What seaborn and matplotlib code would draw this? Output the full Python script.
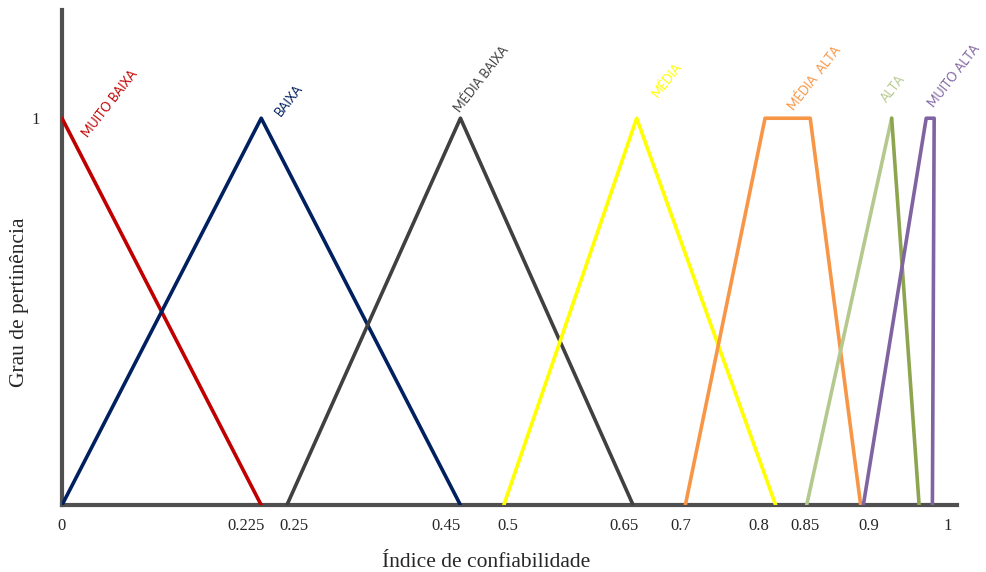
import matplotlib
matplotlib.use("Agg")
import matplotlib.pyplot as plt
import seaborn as sns
import pandas as pd

# membership functions (x = índice, y = grau)
mb_x = [0.0, 0.225]
mb_y = [1, 0]
b_x = [0.0, 0.225, 0.45]
b_y = [0, 1, 0]
mbx_x = [0.254, 0.45, 0.645]
mbx_y = [0, 1, 0]
m_x = [0.499, 0.649, 0.806]
m_y = [0, 1, 0]
ma_x = [0.704, 0.794, 0.845, 0.902]
ma_y = [0, 1, 1, 0]
a_x = [0.841, 0.937, 0.968]
a_y = [0, 1, 0]
mta_x = [0.905, 0.976, 0.985, 0.983]
mta_y = [0, 1, 1, 0]

names = ["MUITO BAIXA", "BAIXA", "MÉDIA BAIXA", "MÉDIA", "MÉDIA  ALTA", "ALTA", "MUITO ALTA"]
colors = ["#c00000", "#002060", "#404040", "#ffff00", "#f79646", "#b5c98e", "#8064a2"]
alta_fall_color = "#8ea54f"

# label anchors (lower-left of rotated text)
lab_x = [0.031, 0.249, 0.451, 0.675, 0.829, 0.933, 0.987]
lab_y = [0.945, 1.0, 1.01, 1.05, 1.015, 1.035, 1.022]

tick_pos = [0.0, 0.208, 0.262, 0.434, 0.504, 0.635, 0.699, 0.787, 0.839, 0.911, 1.0]
tick_labels = ["0", "0.225", "0.25", "0.45", "0.5", "0.65", "0.7", "0.8", "0.85", "0.9", "1"]

sns.set_style("white")
plt.rcParams['font.family'] = ['Liberation Serif', 'DejaVu Serif']

fig = plt.figure(figsize=(9.87, 5.72), dpi=100)
ax = fig.add_axes([0.0628, 0.117, 0.907, 0.865])

series = [(mb_x, mb_y), (b_x, b_y), (mbx_x, mbx_y), (m_x, m_y), (ma_x, ma_y), (a_x, a_y), (mta_x, mta_y)]
for i, (xs, ys) in enumerate(series):
    df = pd.DataFrame({"x": xs, "y": ys})
    if names[i] == "ALTA":
        sns.lineplot(data=df.iloc[:2], x="x", y="y", sort=False, estimator=None,
                     color=colors[i], linewidth=2.6, ax=ax)
        sns.lineplot(data=df.iloc[1:], x="x", y="y", sort=False, estimator=None,
                     color=alta_fall_color, linewidth=2.6, ax=ax)
    else:
        sns.lineplot(data=df, x="x", y="y", sort=False, estimator=None,
                     color=colors[i], linewidth=2.6, ax=ax)
    ax.text(lab_x[i], lab_y[i], names[i], color=colors[i], rotation=52,
            rotation_mode='anchor', ha='left', va='bottom', fontsize=9,
            family=['Lato', 'DejaVu Sans'])

ax.set_xticks(tick_pos)
ax.set_xticklabels(tick_labels, fontsize=12)
ax.set_yticks([1])
ax.set_yticklabels(["1"], fontsize=12)
ax.set_xlim(0, 1.011)
ax.set_ylim(0, 1.279)
ax.tick_params(axis='x', length=0, pad=9)
ax.tick_params(axis='y', length=0, pad=16)
ax.set_xlabel("Índice de confiabilidade", fontsize=15.5)
ax.xaxis.set_label_coords(0.474, -0.097)
ax.set_ylabel("Grau de pertinência", fontsize=15.5)
ax.yaxis.set_label_coords(-0.037, 0.41)

for s in ["top", "right"]:
    ax.spines[s].set_visible(False)
for s in ["left", "bottom"]:
    ax.spines[s].set_color("#505050")
    ax.spines[s].set_linewidth(3)
    ax.spines[s].set_zorder(1)

fig.savefig("out.png", dpi=100)
